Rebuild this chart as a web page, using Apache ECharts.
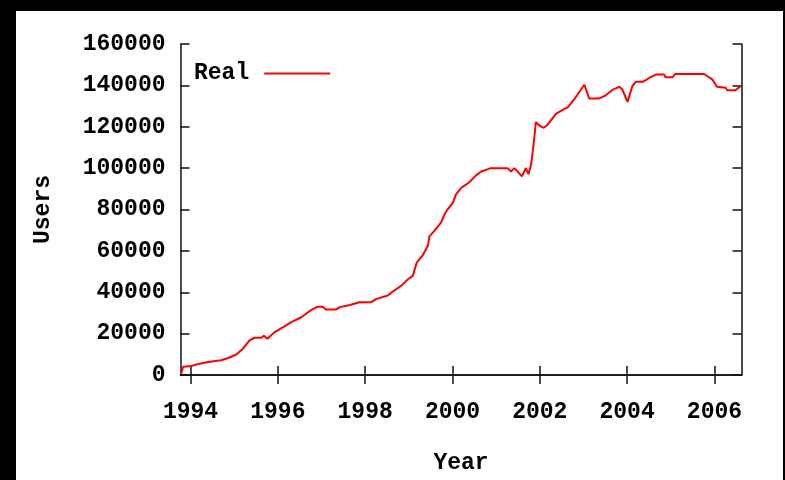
<!DOCTYPE html>
<html>
<head>
<meta charset="utf-8">
<script src="https://cdn.jsdelivr.net/npm/echarts@6/dist/echarts.min.js"></script>
<style>
html,body{margin:0;padding:0;background:#000;}
#c{width:785px;height:480px;}
</style>
</head>
<body>
<div id="c"></div>
<script>
// decimal year of each reading
var years = [1993.79,1993.83,1994.02,1994.13,1994.40,1994.70,1994.86,1995.04,1995.20,1995.35,1995.47,1995.62,1995.68,1995.76,1995.92,1996.15,1996.30,1996.53,1996.76,1996.91,1997.03,1997.10,1997.34,1997.42,1997.65,1997.87,1998.14,1998.26,1998.52,1998.64,1998.83,1998.98,1999.09,1999.13,1999.18,1999.32,1999.44,1999.47,1999.59,1999.74,1999.82,1999.89,2000.01,2000.08,2000.20,2000.31,2000.39,2000.54,2000.66,2000.81,2000.87,2001.26,2001.34,2001.42,2001.49,2001.59,2001.68,2001.74,2001.80,2001.86,2001.91,2001.99,2002.09,2002.18,2002.37,2002.56,2002.64,2002.79,2003.02,2003.13,2003.36,2003.51,2003.66,2003.82,2003.89,2004.01,2004.12,2004.20,2004.35,2004.43,2004.50,2004.66,2004.85,2004.88,2005.04,2005.10,2005.76,2005.84,2005.95,2006.06,2006.26,2006.29,2006.48,2006.59];
// users (Real)
var users = [800,4000,4300,5100,6300,7100,8200,9800,12700,16700,18000,18000,19000,17500,20600,23500,25400,27800,31400,33000,33000,31700,31700,32800,33800,35200,35200,36800,38400,40500,43200,46300,47900,48000,54300,57900,62700,67000,69800,73800,77800,80100,83300,87300,90500,92000,93300,96500,98400,99500,100000,100000,98400,100000,98400,96000,100000,97100,101600,111900,122200,120600,119500,121000,126200,128600,129400,133300,140300,133700,133700,135200,137800,139300,138000,132000,139700,141700,141700,142500,143600,145200,145200,143900,143900,145500,145500,144400,142900,139300,138900,137600,137600,139500];
var xTicks = [1994,1996,1998,2000,2002,2004,2006];
var seriesName = 'Real';
var xTitle = 'Year';
var yTitle = 'Users';

var FONT = 'Liberation Mono';
var data = years.map(function(y,i){return [y, users[i]];});
var chart = echarts.init(document.getElementById('c'), null, {renderer:'canvas'});
var axisLine = {show:true, lineStyle:{color:'#111', width:1.5}};
var tick = {show:true, inside:true, length:9, lineStyle:{color:'#111', width:1.5}};
var lbl = {fontFamily:FONT, fontWeight:'bold', fontSize:23, color:'#000'};
chart.setOption({
  animation:false,
  backgroundColor:'#000',
  graphic:{elements:[{type:'rect', z:-100, silent:true, shape:{x:16,y:11,width:767,height:469}, style:{fill:'#fff'}}]},
  grid:{left:180.5, top:44, right:43.5, bottom:100, containLabel:false},
  legend:{left:189, top:57, align:'right', icon:'rect', itemWidth:66, itemHeight:2,
    textStyle:{fontFamily:FONT, fontWeight:'bold', fontSize:23, color:'#000', padding:[0,10,0,0]},
    data:[seriesName]},
  xAxis:[{
    type:'value', min:1993.77, max:2006.62, position:'bottom',
    name:xTitle, nameLocation:'middle', nameGap:77,
    nameTextStyle:lbl,
    axisLine:axisLine, axisTick:Object.assign({customValues:xTicks}, tick),
    axisLabel:Object.assign({customValues:xTicks, margin:26, formatter:function(v){return String(v);}}, lbl),
    splitLine:{show:false}
  },{
    type:'value', min:1993.77, max:2006.62, position:'top',
    axisLine:axisLine, axisTick:Object.assign({customValues:xTicks}, tick),
    axisLabel:{show:false}, splitLine:{show:false}
  }],
  yAxis:[{
    type:'value', min:0, max:160000, interval:20000, position:'left',
    name:yTitle, nameLocation:'middle', nameGap:126, nameRotate:90,
    nameTextStyle:lbl,
    axisLine:axisLine, axisTick:tick,
    axisLabel:Object.assign({margin:15, formatter:function(v){return String(v);}}, lbl),
    splitLine:{show:false}
  },{
    type:'value', min:0, max:160000, interval:20000, position:'right',
    axisLine:axisLine, axisTick:tick, axisLabel:{show:false}, splitLine:{show:false}
  }],
  series:[{
    name:seriesName, type:'line', data:data, showSymbol:false, symbol:'none',
    xAxisIndex:0, yAxisIndex:0,
    lineStyle:{color:'#ff0000', width:2}, itemStyle:{color:'#ff0000'}
  }]
});
</script>
</body>
</html>
